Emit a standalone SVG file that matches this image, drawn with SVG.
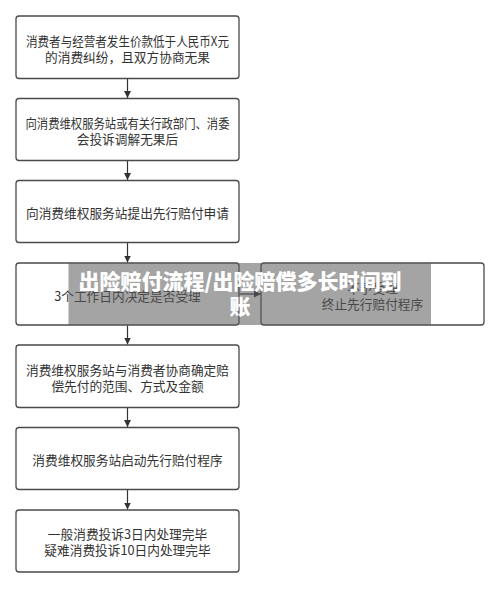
<svg xmlns="http://www.w3.org/2000/svg" width="500" height="589" viewBox="0 0 500 589">
<defs>
<style>
.box{fill:#ffffff;stroke:#4a4a4a;stroke-width:1.3}
.t{font-family:"Noto Sans CJK SC","Noto Sans",sans-serif;font-size:12.7px;fill:#333333;text-anchor:middle;dominant-baseline:central}
.c{stroke:#333333;stroke-width:1.2;fill:none}
.ttl{font-family:"Noto Sans CJK SC","Noto Sans",sans-serif;font-size:21px;font-weight:900;fill:#ffffff;text-anchor:middle;dominant-baseline:central}
</style>
<marker id="ah" viewBox="0 0 10 10" refX="10" refY="5" markerWidth="7" markerHeight="7" markerUnits="userSpaceOnUse" orient="auto">
<path d="M0,0 L10,5 L0,10 z" fill="#333333"/>
</marker>
</defs>
<rect width="500" height="589" fill="#ffffff"/>
<g id="connectors">
<line class="c" x1="127.5" y1="79" x2="127.5" y2="98" marker-end="url(#ah)"/>
<line class="c" x1="127.5" y1="161" x2="127.5" y2="180" marker-end="url(#ah)"/>
<line class="c" x1="127.5" y1="243" x2="127.5" y2="262.5" marker-end="url(#ah)"/>
<line class="c" x1="127.5" y1="325.5" x2="127.5" y2="344.5" marker-end="url(#ah)"/>
<line class="c" x1="127.5" y1="408" x2="127.5" y2="427" marker-end="url(#ah)"/>
<line class="c" x1="127.5" y1="490" x2="127.5" y2="509.5" marker-end="url(#ah)"/>
<line class="c" x1="239.5" y1="294" x2="261" y2="294" marker-end="url(#ah)"/>
</g>
<g id="n1"><rect class="box" x="16" y="16" width="223" height="62.5" rx="3"/>
<text class="t" x="127.5" y="40" textLength="203" lengthAdjust="spacingAndGlyphs">消费者与经营者发生价款低于人民币X元</text>
<text class="t" x="127.5" y="56">的消费纠纷，且双方协商无果</text></g>
<g id="n2"><rect class="box" x="16" y="98.5" width="223" height="62" rx="3"/>
<text class="t" x="127.5" y="122.5" textLength="204" lengthAdjust="spacingAndGlyphs">向消费维权服务站或有关行政部门、消委</text>
<text class="t" x="127.5" y="138.5">会投诉调解无果后</text></g>
<g id="n3"><rect class="box" x="16" y="180.5" width="223" height="62" rx="3"/>
<text class="t" x="127.5" y="212.5">向消费维权服务站提出先行赔付申请</text></g>
<g id="n4"><rect class="box" x="16" y="263" width="223" height="62" rx="3"/>
<text class="t" x="127.5" y="295">3个工作日内决定是否受理</text></g>
<g id="n5"><rect class="box" x="16" y="345" width="223" height="62.5" rx="3"/>
<text class="t" x="127.5" y="369">消费维权服务站与消费者协商确定赔</text>
<text class="t" x="127.5" y="385">偿先付的范围、方式及金额</text></g>
<g id="n6"><rect class="box" x="16" y="427.5" width="223" height="62" rx="3"/>
<text class="t" x="127.5" y="459">消费维权服务站启动先行赔付程序</text></g>
<g id="n7"><rect class="box" x="16" y="510" width="223" height="62" rx="3"/>
<text class="t" x="127.5" y="533">一般消费投诉3日内处理完毕</text>
<text class="t" x="127.5" y="549">疑难消费投诉10日内处理完毕</text></g>
<g id="n8"><rect class="box" x="261" y="263" width="223" height="62" rx="3"/>
<text class="t" x="372.5" y="287">不予受理</text>
<text class="t" x="372.5" y="303.5">终止先行赔付程序</text></g>
<g id="overlay">
<rect x="68.5" y="263" width="362.5" height="62" fill="#5a5a5a" fill-opacity="0.55"/>
<text class="ttl" x="240" y="279.5">出险赔付流程/出险赔偿多长时间到</text>
<text class="ttl" x="240" y="305">账</text>
</g>
</svg>
